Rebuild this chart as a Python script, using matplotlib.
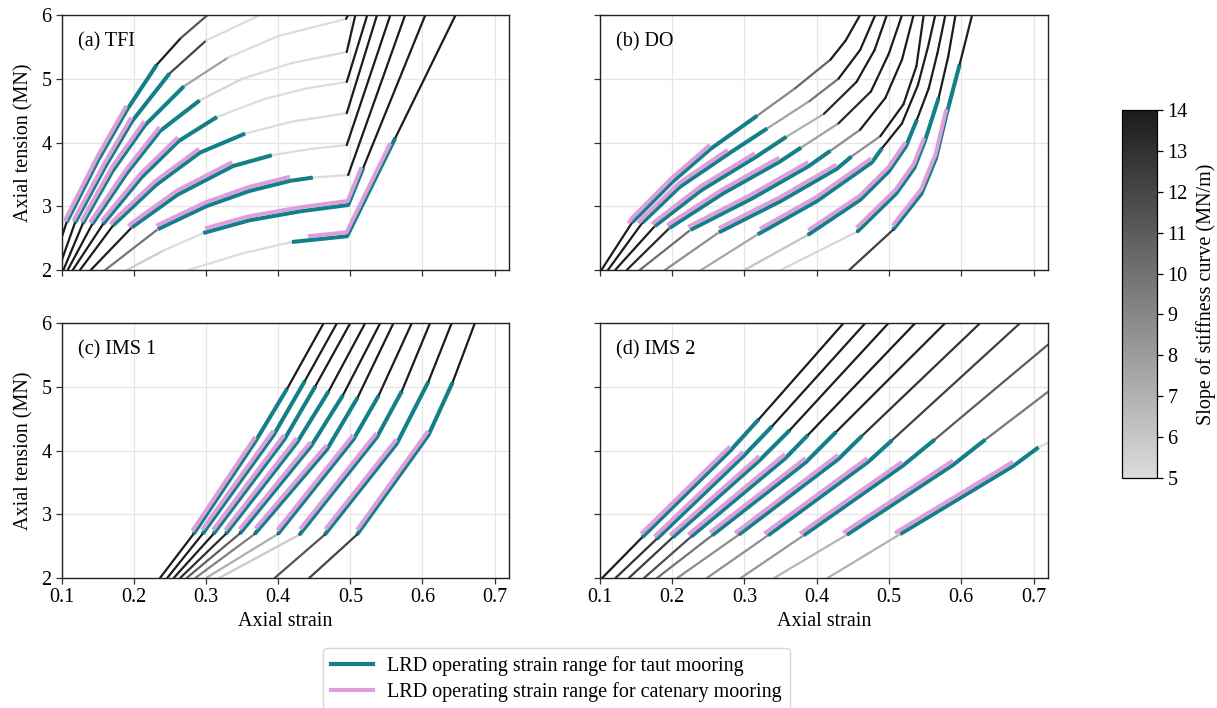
import numpy as np
import matplotlib.pyplot as plt
import matplotlib.transforms as mtransforms
from matplotlib.collections import LineCollection
from matplotlib.colors import LinearSegmentedColormap, Normalize
from matplotlib.cm import ScalarMappable
from matplotlib.lines import Line2D

plt.rcParams['font.family'] = ['Liberation Serif', 'DejaVu Serif']
plt.rcParams['font.size'] = 14.5

# ---- data: (strain, tension) points of each stiffness curve ----
TFI_STRAIN = [
    [0.085, 0.1065, 0.15, 0.190, 0.2315, 0.265, 0.302],
    [0.095, 0.118, 0.16, 0.197, 0.249, 0.30, 0.375],
    [0.102, 0.129, 0.17, 0.215, 0.269, 0.33, 0.40, 0.494, 0.497],
    [0.108, 0.142, 0.19, 0.236, 0.291, 0.35, 0.42, 0.495, 0.507],
    [0.115, 0.157, 0.21, 0.2615, 0.315, 0.38, 0.44, 0.495, 0.5235],
    [0.125, 0.171, 0.23, 0.291, 0.354, 0.42, 0.495, 0.537],
    [0.14, 0.197, 0.26, 0.337, 0.391, 0.445, 0.495, 0.5555],
    [0.16, 0.233, 0.30, 0.36, 0.417, 0.448, 0.497, 0.576],
    [0.19, 0.24, 0.296, 0.36, 0.43, 0.497, 0.604],
    [0.275, 0.35, 0.419, 0.4955, 0.646],
]
TFI_TENSION = [
    [2.0, 2.75, 3.72, 4.51, 5.22, 5.64, 6.0],
    [2.0, 2.74, 3.62, 4.33, 5.08, 5.6, 6.0],
    [2.0, 2.73, 3.55, 4.27, 4.88, 5.33, 5.67, 5.94, 6.0],
    [2.0, 2.72, 3.52, 4.18, 4.66, 5.0, 5.25, 5.42, 6.0],
    [2.0, 2.72, 3.45, 4.02, 4.40, 4.68, 4.85, 4.95, 6.0],
    [2.0, 2.70, 3.33, 3.84, 4.14, 4.33, 4.46, 6.0],
    [2.0, 2.67, 3.18, 3.63, 3.80, 3.90, 3.96, 6.0],
    [2.0, 2.64, 3.0, 3.24, 3.40, 3.45, 3.49, 6.0],
    [2.0, 2.3, 2.58, 2.78, 2.92, 3.02, 6.0],
    [2.0, 2.26, 2.44, 2.53, 6.0],
]
TFI_TAUT_START = [0.1065, 0.118, 0.129, 0.142, 0.157, 0.171, 0.197, 0.233, 0.296, 0.419]
TFI_TAUT_END = [0.2315, 0.249, 0.269, 0.291, 0.315, 0.354, 0.391, 0.448, 0.518, 0.5625]
TFI_CAT_START = [0.105, 0.117, 0.128, 0.140, 0.156, 0.168, 0.193, 0.232, 0.299, 0.442]
TFI_CAT_END = [0.190, 0.197, 0.215, 0.236, 0.2615, 0.291, 0.337, 0.417, 0.516, 0.556]

DO_STRAIN = [
    [0.102, 0.1447, 0.20, 0.253, 0.3175, 0.37, 0.419, 0.44, 0.460],
    [0.111, 0.1585, 0.21, 0.2774, 0.3313, 0.39, 0.43, 0.46, 0.481],
    [0.121, 0.176, 0.24, 0.3152, 0.358, 0.41, 0.455, 0.48, 0.497],
    [0.137, 0.1963, 0.27, 0.3488, 0.3783, 0.43, 0.475, 0.50, 0.518],
    [0.155, 0.2253, 0.31, 0.3889, 0.4189, 0.46, 0.495, 0.518, 0.534],
    [0.19, 0.2645, 0.35, 0.4281, 0.448, 0.488, 0.52, 0.538, 0.548],
    [0.24, 0.3184, 0.40, 0.4765, 0.4903, 0.518, 0.54, 0.554, 0.564],
    [0.30, 0.3876, 0.46, 0.50, 0.5235, 0.5387, 0.555, 0.567, 0.578],
    [0.35, 0.4558, 0.51, 0.535, 0.5493, 0.5687, 0.582, 0.592],
    [0.445, 0.5055, 0.545, 0.565, 0.580, 0.5977, 0.615],
]
DO_TENSION = [
    [2.0, 2.75, 3.38, 3.90, 4.42, 4.85, 5.30, 5.6, 6.0],
    [2.0, 2.74, 3.3, 3.82, 4.22, 4.65, 5.0, 5.45, 6.0],
    [2.0, 2.69, 3.25, 3.77, 4.09, 4.45, 4.95, 5.45, 6.0],
    [2.0, 2.66, 3.2, 3.70, 3.92, 4.3, 4.8, 5.4, 6.0],
    [2.0, 2.63, 3.12, 3.63, 3.87, 4.2, 4.7, 5.3, 6.0],
    [2.0, 2.59, 3.08, 3.59, 3.78, 4.1, 4.6, 5.2, 6.0],
    [2.0, 2.56, 3.08, 3.69, 3.91, 4.3, 4.9, 5.5, 6.0],
    [2.0, 2.55, 3.1, 3.55, 3.94, 4.36, 4.85, 5.4, 6.0],
    [2.0, 2.60, 3.2, 3.6, 4.01, 4.70, 5.35, 6.0],
    [2.0, 2.63, 3.2, 3.75, 4.46, 5.22, 6.0],
]
DO_TAUT_START = [0.1447, 0.1585, 0.176, 0.1963, 0.2253, 0.2645, 0.3184, 0.3876, 0.4558, 0.5055]
DO_TAUT_END = [0.3175, 0.3313, 0.358, 0.3783, 0.4189, 0.448, 0.4903, 0.5387, 0.5687, 0.5977]
DO_CAT_START = [0.140, 0.1539, 0.1733, 0.194, 0.223, 0.2654, 0.3221, 0.3889, 0.4558, 0.5055]
DO_CAT_END = [0.253, 0.2774, 0.3152, 0.3488, 0.3889, 0.4281, 0.4765, 0.5235, 0.5493, 0.580]

IMS1_STRAIN = [
    [0.236, 0.2825, 0.3687, 0.4124, 0.4631],
    [0.246, 0.2949, 0.394, 0.4369, 0.4816],
    [0.255, 0.3101, 0.4088, 0.4516, 0.500],
    [0.264, 0.3272, 0.4263, 0.470, 0.5207],
    [0.273, 0.347, 0.4456, 0.4899, 0.5415],
    [0.285, 0.3673, 0.4677, 0.5101, 0.5599],
    [0.30, 0.3995, 0.5046, 0.5392, 0.5853],
    [0.318, 0.4295, 0.5369, 0.5714, 0.6106],
    [0.395, 0.4645, 0.5645, 0.6083, 0.6406],
    [0.443, 0.5092, 0.6083, 0.6419, 0.6728],
]
IMS1_TENSION = [
    [2.0, 2.69, 4.15, 4.97, 6.0],
    [2.0, 2.69, 4.25, 5.09, 6.0],
    [2.0, 2.69, 4.18, 5.01, 6.0],
    [2.0, 2.69, 4.13, 4.93, 6.0],
    [2.0, 2.70, 4.07, 4.87, 6.0],
    [2.0, 2.69, 4.02, 4.83, 6.0],
    [2.0, 2.69, 4.18, 4.86, 6.0],
    [2.0, 2.68, 4.21, 4.93, 6.0],
    [2.0, 2.68, 4.11, 5.08, 6.0],
    [2.0, 2.68, 4.24, 5.07, 6.0],
]
IMS1_TAUT_START = [0.2825, 0.2949, 0.3101, 0.3272, 0.347, 0.3673, 0.3995, 0.4295, 0.4645, 0.5092]
IMS1_TAUT_END = [0.4124, 0.4369, 0.4516, 0.470, 0.4899, 0.5101, 0.5392, 0.5714, 0.6083, 0.6419]
IMS1_CAT_START = [0.2815, 0.295, 0.31, 0.327, 0.347, 0.369, 0.399, 0.431, 0.466, 0.51]
IMS1_CAT_END = [0.3687, 0.394, 0.4088, 0.4263, 0.4456, 0.4677, 0.5046, 0.5369, 0.5645, 0.6083]

IMS2_STRAIN = [
    [0.103, 0.1585, 0.2806, 0.3198, 0.4373],
    [0.1215, 0.1783, 0.2991, 0.3382, 0.4673],
    [0.14, 0.2009, 0.3212, 0.3627, 0.4995],
    [0.161, 0.2263, 0.3567, 0.3876, 0.5364],
    [0.179, 0.2553, 0.3853, 0.4267, 0.5779],
    [0.207, 0.2922, 0.4304, 0.4627, 0.6263],
    [0.248, 0.3327, 0.471, 0.5041, 0.6816],
    [0.295, 0.382, 0.5189, 0.5631, 0.72],
    [0.341, 0.4419, 0.5894, 0.6332, 0.72],
    [0.415, 0.5157, 0.6724, 0.7069, 0.72],
]
IMS2_TENSION = [
    [2.0, 2.64, 4.0, 4.49, 6.0],
    [2.0, 2.61, 3.92, 4.38, 6.0],
    [2.0, 2.64, 3.85, 4.32, 6.0],
    [2.0, 2.65, 3.88, 4.24, 6.0],
    [2.0, 2.67, 3.82, 4.29, 6.0],
    [2.0, 2.68, 3.87, 4.23, 6.0],
    [2.0, 2.67, 3.82, 4.16, 6.0],
    [2.0, 2.67, 3.76, 4.17, 5.66],
    [2.0, 2.68, 3.78, 4.17, 4.92],
    [2.0, 2.69, 3.76, 4.05, 4.12],
]
IMS2_TAUT_START = [0.1585, 0.1783, 0.2009, 0.2263, 0.2553, 0.2922, 0.3327, 0.382, 0.4419, 0.5157]
IMS2_TAUT_END = [0.3198, 0.3382, 0.3627, 0.3876, 0.4267, 0.4627, 0.5041, 0.5631, 0.6332, 0.7069]
IMS2_CAT_START = [0.1576, 0.176, 0.1977, 0.223, 0.253, 0.2876, 0.3281, 0.3774, 0.4373, 0.5088]
IMS2_CAT_END = [0.2806, 0.2991, 0.3212, 0.3567, 0.3853, 0.4304, 0.471, 0.5189, 0.5894, 0.6724]

PANEL_LABELS = ['(a) TFI', '(b) DO', '(c) IMS 1', '(d) IMS 2']
CBAR_TICKS = [5, 6, 7, 8, 9, 10, 11, 12, 13, 14]

TEAL = '#127f89'
PINK = '#dd9fdb'
GREY = LinearSegmentedColormap.from_list('grey_slope', ['#dcdcdc', '#1c1c1c'])
NORM = Normalize(vmin=5, vmax=14)
# slopes of the coarse polylines are shaded on a slightly narrower window
CURVE_NORM = Normalize(vmin=5.5, vmax=11.5)


def cut(xs, ys, a, b):
    xs = np.asarray(xs)
    ys = np.asarray(ys)
    inner = (xs > a) & (xs < b)
    x = np.concatenate([[a], xs[inner], [b]])
    y = np.concatenate([[np.interp(a, xs, ys)], ys[inner], [np.interp(b, xs, ys)]])
    return x, y


def draw_panel(ax, strains, tensions, taut, cat):
    for s, t in zip(strains, tensions):
        s = np.asarray(s)
        t = np.asarray(t)
        pts = np.column_stack([s, t])
        segs = np.stack([pts[:-1], pts[1:]], axis=1)
        lc = LineCollection(segs, cmap=GREY, norm=CURVE_NORM, linewidths=1.6,
                            capstyle='round', zorder=2)
        lc.set_array(np.diff(t) / np.diff(s))
        ax.add_collection(lc)
    shifted = mtransforms.offset_copy(ax.transData, fig=ax.figure, x=-0.5, y=4, units='dots')
    for s, t, a, b in zip(strains, tensions, *taut):
        x, y = cut(s, t, a, b)
        ax.plot(x, y, color=TEAL, lw=2.9, solid_capstyle='butt', zorder=3)
    for s, t, a, b in zip(strains, tensions, *cat):
        x, y = cut(s, t, a, b)
        ax.plot(x, y, color=PINK, lw=2.9, solid_capstyle='butt', zorder=4, transform=shifted)


fig = plt.figure(figsize=(12.17, 7.08), dpi=100)
rects = [[0.0509, 0.6186, 0.3673, 0.3602], [0.4930, 0.6186, 0.3681, 0.3602],
         [0.0509, 0.1836, 0.3673, 0.3602], [0.4930, 0.1836, 0.3681, 0.3602]]
panels = [
    (TFI_STRAIN, TFI_TENSION, (TFI_TAUT_START, TFI_TAUT_END), (TFI_CAT_START, TFI_CAT_END)),
    (DO_STRAIN, DO_TENSION, (DO_TAUT_START, DO_TAUT_END), (DO_CAT_START, DO_CAT_END)),
    (IMS1_STRAIN, IMS1_TENSION, (IMS1_TAUT_START, IMS1_TAUT_END), (IMS1_CAT_START, IMS1_CAT_END)),
    (IMS2_STRAIN, IMS2_TENSION, (IMS2_TAUT_START, IMS2_TAUT_END), (IMS2_CAT_START, IMS2_CAT_END)),
]

for i, (rect, data, label) in enumerate(zip(rects, panels, PANEL_LABELS)):
    ax = fig.add_axes(rect)
    draw_panel(ax, *data)
    ax.set_xlim(0.1, 0.72)
    ax.set_ylim(2, 6)
    ax.set_xticks([0.1, 0.2, 0.3, 0.4, 0.5, 0.6, 0.7])
    ax.set_yticks([2, 3, 4, 5, 6])
    ax.grid(True, color='#e6e6e6', lw=0.9, zorder=0)
    ax.set_axisbelow(True)
    ax.tick_params(direction='out', length=4, width=0.9, color='#333333')
    for sp in ax.spines.values():
        sp.set_linewidth(1.0)
        sp.set_color('#222222')
    ax.text(0.035, 0.895, label, transform=ax.transAxes, va='center', ha='left')
    if i < 2:
        ax.tick_params(labelbottom=False)
    else:
        ax.set_xlabel('Axial strain', labelpad=3)
    if i % 2 == 1:
        ax.tick_params(labelleft=False)
    else:
        ax.set_ylabel('Axial tension (MN)', labelpad=6)

cax = fig.add_axes([0.922, 0.3249, 0.0288, 0.5198])
sm = ScalarMappable(norm=NORM, cmap=GREY)
cb = fig.colorbar(sm, cax=cax, ticks=CBAR_TICKS)
cb.set_label('Slope of stiffness curve (MN/m)', labelpad=6)
cb.outline.set_linewidth(0.9)
cax.tick_params(length=4, width=0.9)

handles = [Line2D([], [], color=TEAL, lw=3), Line2D([], [], color=PINK, lw=3)]
fig.legend(handles, ['LRD operating strain range for taut mooring',
                     'LRD operating strain range for catenary mooring'],
           loc='upper center', bbox_to_anchor=(0.457, 0.099), frameon=True,
           edgecolor='#cccccc', fancybox=True, handlelength=2.1, handletextpad=0.7,
           labelspacing=0.3, borderpad=0.4)

fig.savefig('out.png', dpi=100)
